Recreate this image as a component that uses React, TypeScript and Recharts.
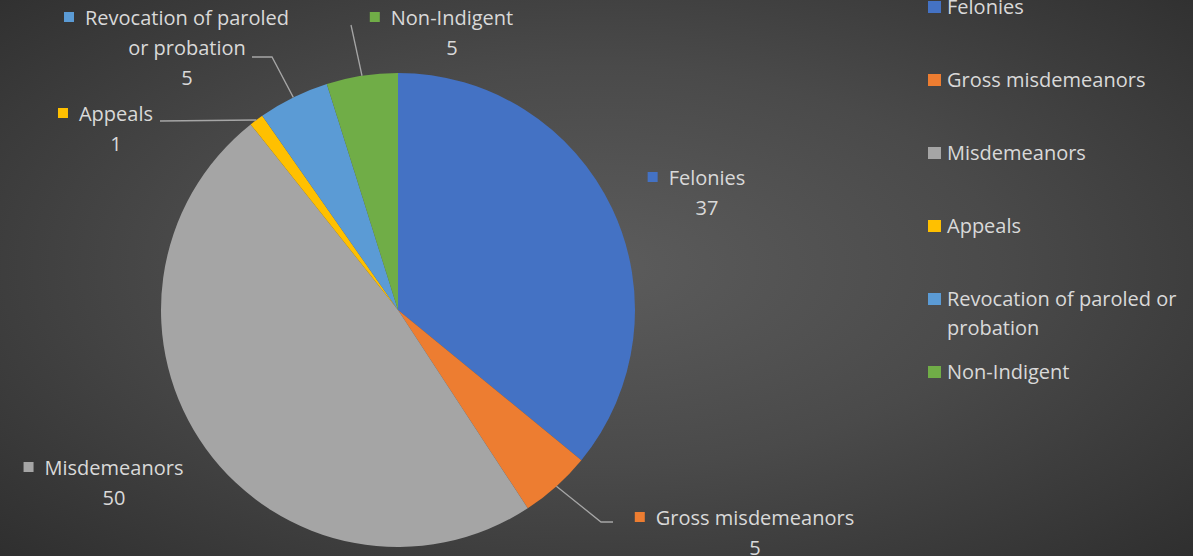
import React from 'react';
import { PieChart, Pie, Cell, Legend } from 'recharts';

const categories = ['Felonies', 'Gross misdemeanors', 'Misdemeanors', 'Appeals', 'Revocation of paroled or probation', 'Non-Indigent'];
const counts = [37, 5, 50, 1, 5, 5];
const colors = ['#4472C4', '#ED7D31', '#A5A5A5', '#FFC000', '#5B9BD5', '#70AD47'];

// label lines as they wrap on the chart
const labelLines = [
  ['Felonies'],
  ['Gross misdemeanors'],
  ['Misdemeanors'],
  ['Appeals'],
  ['Revocation of paroled', 'or probation'],
  ['Non-Indigent'],
];

// label placement relative to the pie centre (text centre x, first line y, leader line points)
const labelLayout = [
  { dx: 309, dy: -133, lead: [] as number[][] },
  { dx: 357, dy: 207, lead: [[203, 212], [215, 212]] },
  { dx: -284, dy: 157, lead: [] },
  { dx: -282, dy: -197, lead: [[-238, -189]] },
  { dx: -211, dy: -293, lead: [[-126, -253], [-146, -253]] },
  { dx: 54, dy: -293, lead: [[-47, -285]] },
];

const data = categories.map((name, i) => ({ name, value: counts[i] }));

const FONT = "'Open Sans', sans-serif";
const FONT_SIZE = 20;
const TEXT = '#d9d9d9';
const RAD = Math.PI / 180;

let ctx: CanvasRenderingContext2D | null = null;
function textWidth(s: string) {
  if (!ctx) ctx = document.createElement('canvas').getContext('2d');
  if (!ctx) return s.length * 10;
  ctx.font = `${FONT_SIZE}px 'Open Sans'`;
  return ctx.measureText(s).width;
}

function renderLabel(props: any) {
  const { cx, cy, midAngle, outerRadius, index, value } = props;
  const lay = labelLayout[index];
  const lines = labelLines[index];
  const tx = cx + lay.dx;
  const ty = cy + lay.dy;
  const ex = cx + outerRadius * Math.cos(-midAngle * RAD);
  const ey = cy + outerRadius * Math.sin(-midAngle * RAD);
  const pts = [[ex, ey], ...lay.lead.map(([x, y]) => [cx + x, cy + y])];
  const w = textWidth(lines[0]);
  return (
    <g key={`lbl-${index}`}>
      {lay.lead.length > 0 && (
        <polyline points={pts.map((p) => p.join(',')).join(' ')} fill="none" stroke="#a6a6a6" strokeWidth={1.3} />
      )}
      <rect x={tx - w / 2 - 21} y={ty - 5} width={10} height={10} fill={colors[index]} />
      {lines.map((l, k) => (
        <text key={k} x={tx} y={ty + k * 30} textAnchor="middle" dominantBaseline="central" fill={TEXT} fontSize={FONT_SIZE} fontFamily={FONT}>
          {l}
        </text>
      ))}
      <text x={tx} y={ty + lines.length * 30} textAnchor="middle" dominantBaseline="central" fill={TEXT} fontSize={FONT_SIZE} fontFamily={FONT}>
        {value}
      </text>
    </g>
  );
}

function LegendContent() {
  return (
    <div style={{ position: 'relative', width: 265, height: 420 }}>
      {categories.map((c, i) => (
        <div key={c} style={{ position: 'absolute', top: i * 73, left: 0, display: 'flex', alignItems: 'flex-start', width: 265 }}>
          <div style={{ width: 13, height: 12, background: colors[i], marginTop: 9, marginRight: 6, flexShrink: 0 }} />
          <div style={{ color: TEXT, fontFamily: FONT, fontSize: FONT_SIZE, lineHeight: '29px', width: 246 }}>{c}</div>
        </div>
      ))}
    </div>
  );
}

export default function App() {
  return (
    <div
      style={{
        position: 'absolute',
        left: 0,
        top: 0,
        width: 1193,
        height: 556,
        overflow: 'hidden',
        background: 'radial-gradient(ellipse 75% 80% at 50% 48%, #5c5c5c 0%, #4a4a4a 45%, #2b2b2b 100%)',
      }}
    >
      <PieChart width={1193} height={556} margin={{ top: 0, right: 0, bottom: 0, left: 0 }}>
        <Pie
          data={data}
          dataKey="value"
          nameKey="name"
          cx={398}
          cy={310}
          outerRadius={237}
          startAngle={90}
          endAngle={-270}
          stroke="none"
          label={renderLabel}
          labelLine={false}
          isAnimationActive={false}
        >
          {data.map((d, i) => (
            <Cell key={d.name} fill={colors[i]} />
          ))}
        </Pie>
        <Legend
          layout="vertical"
          verticalAlign="top"
          align="right"
          wrapperStyle={{ left: 928, top: -8, width: 265 }}
          content={() => <LegendContent />}
        />
      </PieChart>
    </div>
  );
}
